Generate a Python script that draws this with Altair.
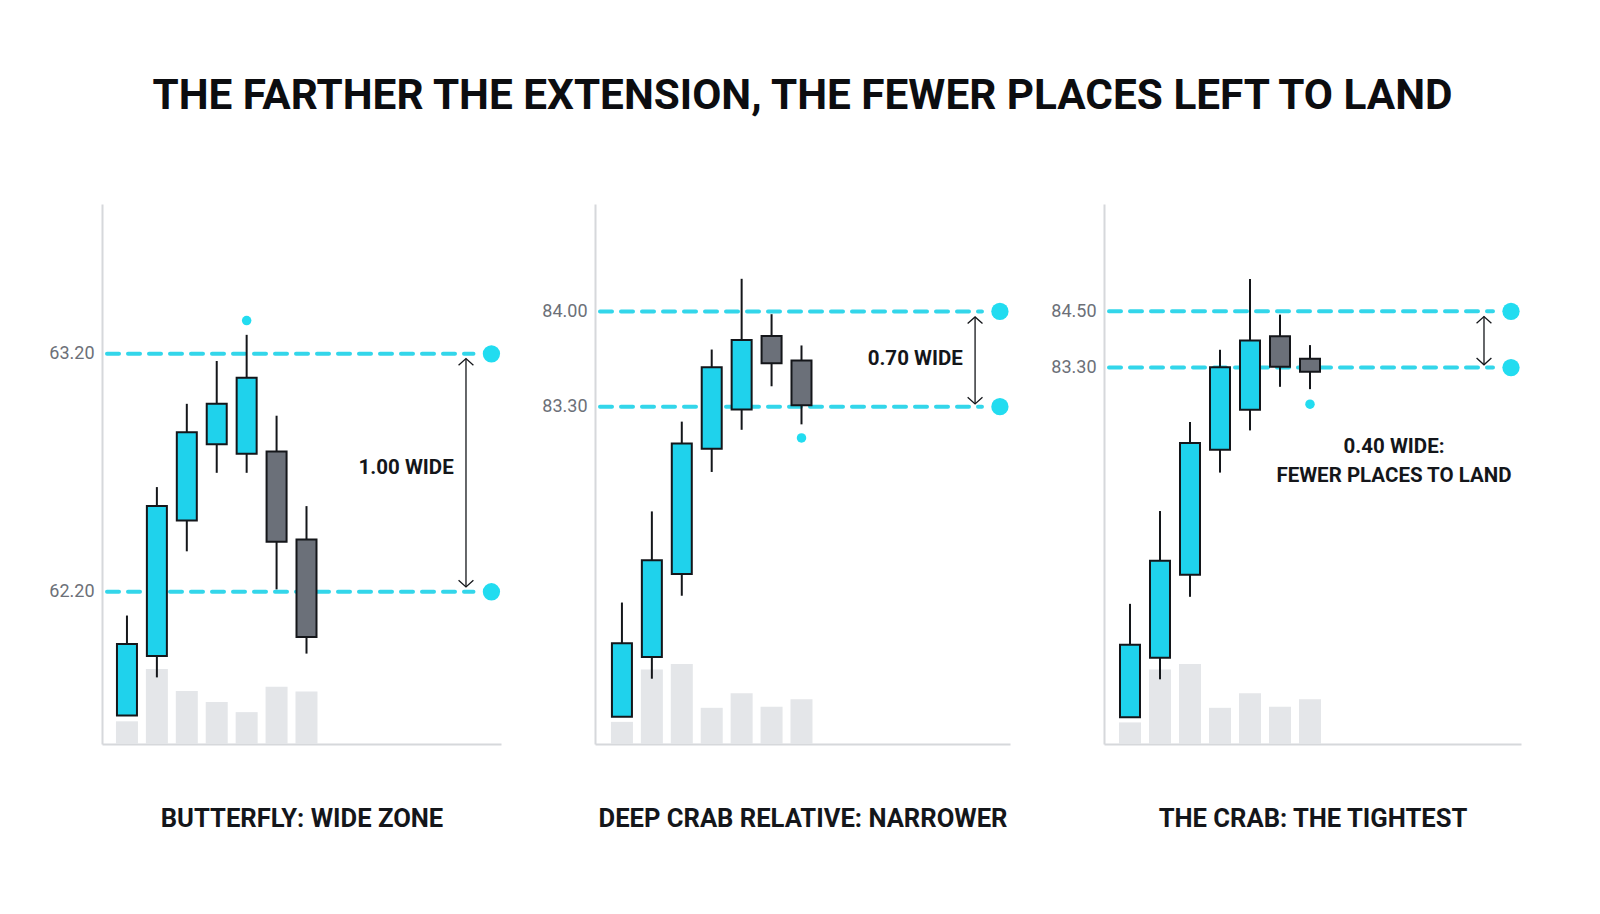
import altair as alt
import pandas as pd

TITLE = "THE FARTHER THE EXTENSION, THE FEWER PLACES LEFT TO LAND"
FONT = "Roboto"
CYAN = "#33d6ea"
BULL = "#1fd2ec"
BEAR = "#6b7079"
INK = "#14161a"

candle = [1, 2, 3, 4, 5, 6, 7]

# butterfly
bf_open = [61.68, 61.93, 62.50, 62.82, 62.78, 62.79, 62.42]
bf_close = [61.98, 62.56, 62.87, 62.99, 63.10, 62.41, 62.01]
bf_high = [62.10, 62.64, 62.99, 63.17, 63.28, 62.94, 62.56]
bf_low = [61.68, 61.84, 62.37, 62.70, 62.70, 62.21, 61.94]
bf_vol = [42, 139, 98, 78, 59, 106, 97]
bf_levels = [63.20, 62.20]
bf_marker = [5, 63.34]

# deep crab
dc_open = [81.02, 81.46, 82.07, 82.99, 83.28, 83.82, 83.64]
dc_close = [81.56, 82.17, 83.03, 83.59, 83.79, 83.62, 83.31]
dc_high = [81.86, 82.53, 83.19, 83.72, 84.24, 83.98, 83.75]
dc_low = [81.02, 81.30, 81.91, 82.82, 83.13, 83.45, 83.17]
dc_vol = [41, 138, 148, 67, 94, 69, 83]
dc_levels = [84.00, 83.30]
dc_marker = [7, 83.07]

# crab
cr_open = [75.84, 77.11, 78.88, 81.55, 82.40, 83.97, 83.49]
cr_close = [77.39, 79.18, 81.69, 83.31, 83.88, 83.32, 83.21]
cr_high = [78.26, 80.24, 82.14, 83.68, 85.19, 84.43, 83.78]
cr_low = [75.84, 76.65, 78.41, 81.06, 81.96, 82.89, 82.84]
cr_vol = [40, 138, 148, 67, 94, 69, 83]
cr_levels = [84.50, 83.30]
cr_marker = [7, 82.52]

subtitles = ["BUTTERFLY: WIDE ZONE", "DEEP CRAB RELATIVE: NARROWER", "THE CRAB: THE TIGHTEST"]
notes = ["1.00 WIDE", "0.70 WIDE", "0.40 WIDE:\nFEWER PLACES TO LAND"]


def panel(o, c, h, l, vol, levels, marker, note, subtitle, lay):
    df = pd.DataFrame({"i": candle, "open": o, "close": c, "high": h, "low": l, "vol": vol})
    df["dir"] = ["up" if b >= a else "down" for a, b in zip(o, c)]
    lv = pd.DataFrame({"level": levels})
    lv["x0"] = lay["xdom"][0]
    lv["x1"] = lay["dot"] - 0.6
    lv["xd"] = lay["dot"]
    mk = pd.DataFrame({"i": [marker[0]], "p": [marker[1]]})
    ar = pd.DataFrame({"xa": [lay["arrow_x"]], "top": [lay["arrow"][0]], "bot": [lay["arrow"][1]]})
    tx = pd.DataFrame({"xt": [lay["text_x"]], "yt": [lay["text_y"]], "t": [note]})

    xs = alt.Scale(domain=lay["xdom"], nice=False, zero=False)
    xa = alt.Axis(title=subtitle, labels=False, ticks=False, grid=False,
                  domainColor="#d6d8db", domainWidth=2, titleFont=FONT,
                  titleFontSize=25.6, titleFontWeight="bold", titleColor=INK,
                  titlePadding=62)
    ys = alt.Scale(domain=lay["ydom"], nice=False, zero=False)
    ya = alt.Axis(title=None, values=levels, format=".2f", ticks=False, grid=False,
                  domainColor="#d6d8db", domainWidth=2, labelFont=FONT,
                  labelFontSize=18, labelColor="#6c7078", labelPadding=8,
                  minExtent=60, maxExtent=60)

    def X(f):
        return alt.X(f, scale=xs, axis=xa)

    def Y(f):
        return alt.Y(f, scale=ys, axis=ya)

    volume = alt.Chart(df).mark_bar(size=22, color="#e4e6e9").encode(
        x=X("i:Q"),
        y=alt.Y("vol:Q", scale=alt.Scale(domain=[0, 1000]), axis=None),
    )
    lines = alt.Chart(lv).mark_rule(strokeDash=[12, 9], strokeWidth=4, strokeCap="round",
                                    color=CYAN).encode(
        x=X("x0:Q"), x2="x1:Q", y=Y("level:Q"))
    wicks = alt.Chart(df).mark_rule(color=INK, strokeWidth=2).encode(
        x=X("i:Q"), y=Y("low:Q"), y2="high:Q")
    bodies = alt.Chart(df).mark_bar(size=20, stroke=INK, strokeWidth=2).encode(
        x=X("i:Q"), y=Y("open:Q"), y2="close:Q",
        color=alt.Color("dir:N", scale=alt.Scale(domain=["up", "down"], range=[BULL, BEAR]), legend=None),
    )
    dots = alt.Chart(lv).mark_circle(size=300, color="#22dcf0", opacity=1).encode(
        x=X("xd:Q"), y=Y("level:Q"))
    point = alt.Chart(mk).mark_circle(size=90, color="#22dcf0", opacity=1).encode(
        x=X("i:Q"), y=Y("p:Q"))
    shaft = alt.Chart(ar).mark_rule(color=INK, strokeWidth=1.3).encode(
        x=X("xa:Q"), y=Y("top:Q"), y2="bot:Q")
    head_up = alt.Chart(ar).mark_point(shape="M-1,0.9L0,0L1,0.9", size=220, filled=False,
                                       color=INK, strokeWidth=1.3, opacity=1).encode(
        x=X("xa:Q"), y=Y("top:Q"))
    head_dn = alt.Chart(ar).mark_point(shape="M-1,-0.9L0,0L1,-0.9", size=220, filled=False,
                                       color=INK, strokeWidth=1.3, opacity=1).encode(
        x=X("xa:Q"), y=Y("bot:Q"))
    label = alt.Chart(tx).mark_text(font=FONT, fontSize=20.5, fontWeight="bold", color=INK,
                                    align="center", baseline="middle", lineBreak="\n",
                                    lineHeight=28.5).encode(
        x=X("xt:Q"), y=Y("yt:Q"), text="t:N")

    price = alt.layer(lines, wicks, bodies, dots, point, shaft, head_up, head_dn, label)
    return alt.layer(volume, price).resolve_scale(y="independent").properties(
        width=lay["w"], height=540)


lay1 = dict(w=399, xdom=[0.333, 13.333], ydom=[61.56, 63.83], dot=13.18,
            arrow_x=12.33, arrow=[63.18, 62.22], text_x=10.33, text_y=62.72)
lay2 = dict(w=415, xdom=[0.267, 13.8], ydom=[80.82, 84.79], dot=13.63,
            arrow_x=12.8, arrow=[83.96, 83.32], text_x=10.8, text_y=83.65)
lay3 = dict(w=417, xdom=[0.3, 13.867], ydom=[75.27, 86.79], dot=13.7,
            arrow_x=12.8, arrow=[84.39, 83.36], text_x=9.8, text_y=81.60)

p1 = panel(bf_open, bf_close, bf_high, bf_low, bf_vol, bf_levels, bf_marker, notes[0], subtitles[0], lay1)
p2 = panel(dc_open, dc_close, dc_high, dc_low, dc_vol, dc_levels, dc_marker, notes[1], subtitles[1], lay2)
p3 = panel(cr_open, cr_close, cr_high, cr_low, cr_vol, cr_levels, cr_marker, notes[2], subtitles[2], lay3)

chart = alt.hconcat(p1, p2, p3, spacing=94, bounds="flush").properties(
    title=alt.TitleParams(TITLE, font=FONT, fontSize=42.3, fontWeight="bold", color="#0c0d10",
                          anchor="middle", offset=85, dx=21),
    padding={"left": 33, "top": 67, "right": 0, "bottom": 0},
    background="white",
).configure_view(stroke="transparent")

chart.save("out.html", embed_options={"renderer": "svg", "actions": False})
